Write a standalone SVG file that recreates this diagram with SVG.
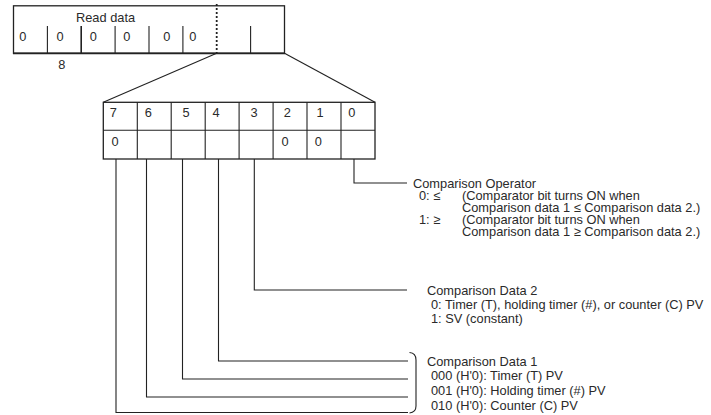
<svg xmlns="http://www.w3.org/2000/svg" width="711" height="415" viewBox="0 0 711 415">
<style>
  .t { font-family: "Liberation Sans", Arial, sans-serif; font-size: 12.8px; fill: #2a2a2a; }
  .m { text-anchor: middle; }
  .box { fill: none; stroke: #222; stroke-width: 1.3; }
  .ln { fill: none; stroke: #222; stroke-width: 1.1; }
</style>
<rect width="711" height="415" fill="#fff"/>
<g id="read-data">
  <rect class="box" x="13.5" y="5.8" width="271" height="47.5"/>
  <line x1="13" y1="53.3" x2="285" y2="53.3" stroke="#222" stroke-width="1.8"/>
  <g class="ln">
    <line x1="47.4" y1="26" x2="47.4" y2="53"/>
    <line x1="81.2" y1="26" x2="81.2" y2="53" stroke-width="1.6"/>
    <line x1="115.1" y1="26" x2="115.1" y2="53"/>
    <line x1="149" y1="26" x2="149" y2="53"/>
    <line x1="182.9" y1="26" x2="182.9" y2="53"/>
    <line x1="250.6" y1="26" x2="250.6" y2="53"/>
    <line x1="216.7" y1="4" x2="216.7" y2="53" stroke-width="1.8" stroke-dasharray="2,2"/>
  </g>
  <text class="t" x="76" y="21.5">Read data</text>
  <text class="t m" x="22.7" y="41">0</text>
  <text class="t m" x="60" y="41">0</text>
  <text class="t m" x="93.3" y="41">0</text>
  <text class="t m" x="126.7" y="41">0</text>
  <text class="t m" x="166.7" y="41">0</text>
  <text class="t m" x="192.7" y="41">0</text>
  <text class="t m" x="61.7" y="68.5">8</text>
</g>
<g id="bits">
  <rect class="box" x="103.3" y="102.3" width="271.7" height="56.7"/>
  <g class="ln">
    <line x1="103.3" y1="130.3" x2="375" y2="130.3"/>
    <line x1="137.3" y1="102.3" x2="137.3" y2="159"/>
    <line x1="171.2" y1="102.3" x2="171.2" y2="159"/>
    <line x1="205.2" y1="102.3" x2="205.2" y2="159"/>
    <line x1="239.1" y1="102.3" x2="239.1" y2="159"/>
    <line x1="273.1" y1="102.3" x2="273.1" y2="159"/>
    <line x1="307" y1="102.3" x2="307" y2="159"/>
    <line x1="341" y1="102.3" x2="341" y2="159"/>
  </g>
  <text class="t m" x="113.3" y="117.3">7</text>
  <text class="t m" x="148.3" y="117.3">6</text>
  <text class="t m" x="186" y="117.3">5</text>
  <text class="t m" x="216" y="117.3">4</text>
  <text class="t m" x="254" y="117.3">3</text>
  <text class="t m" x="287.3" y="117.3">2</text>
  <text class="t m" x="320" y="117.3">1</text>
  <text class="t m" x="351.7" y="117.3">0</text>
  <text class="t m" x="115" y="146">0</text>
  <text class="t m" x="285" y="146">0</text>
  <text class="t m" x="318.3" y="146">0</text>
</g>
<g id="connectors" class="ln">
  <line x1="216.7" y1="53.3" x2="103.3" y2="102.3"/>
  <line x1="284.5" y1="53.3" x2="375" y2="102.3"/>
  <polyline points="354,159 354,183 407,183"/>
  <polyline points="254.3,159 254.3,290 407,290"/>
  <polyline points="218.5,159 218.5,361 408,361"/>
  <polyline points="182.5,159 182.5,379 408,379"/>
  <polyline points="146.5,159 146.5,397 408,397"/>
  <polyline points="116,159 116,412.5 408,412.5"/>
  <path d="M409.5,352.5 Q416,353 416,360 L416,406 Q416,412.5 409.5,413"/>
</g>
<g id="comparison-operator">
  <text class="t" x="413" y="188.3">Comparison Operator</text>
  <text class="t" x="419" y="200.4">0: ≤</text>
  <text class="t" x="462" y="200.4">(Comparator bit turns ON when</text>
  <text class="t" x="462" y="212.4">Comparison data 1 ≤ Comparison data 2.)</text>
  <text class="t" x="419" y="224.4">1: ≥</text>
  <text class="t" x="462" y="224.4">(Comparator bit turns ON when</text>
  <text class="t" x="462" y="236.4">Comparison data 1 ≥ Comparison data 2.)</text>
</g>
<g id="comparison-data-2">
  <text class="t" x="427" y="294.6">Comparison Data 2</text>
  <text class="t" x="431" y="309">0: Timer (T), holding timer (#), or counter (C) PV</text>
  <text class="t" x="431" y="323.2">1: SV (constant)</text>
</g>
<g id="comparison-data-1">
  <text class="t" x="427" y="365.8">Comparison Data 1</text>
  <text class="t" x="431" y="380.3">000 (H'0): Timer (T) PV</text>
  <text class="t" x="431" y="394.8">001 (H'0): Holding timer (#) PV</text>
  <text class="t" x="431" y="409.5">010 (H'0): Counter (C) PV</text>
</g>
</svg>
